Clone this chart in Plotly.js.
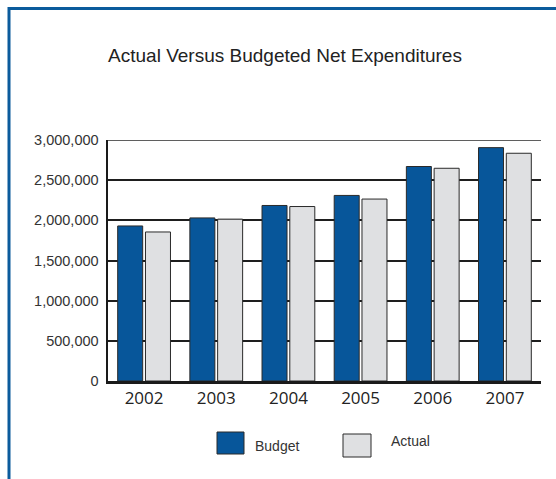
<!DOCTYPE html>
<html>
<head>
<meta charset="utf-8">
<script src="https://cdn.plot.ly/plotly-3.0.1.min.js"></script>
<style>
html,body{margin:0;padding:0;background:#fff;}
#chart{width:556px;height:479px;}
</style>
</head>
<body>
<div id="chart"></div>
<script>
var years = ["2002", "2003", "2004", "2005", "2006", "2007"];
var budget = [1930000, 2030000, 2185000, 2310000, 2670000, 2905000];
var actual = [1855000, 2015000, 2172000, 2265000, 2648000, 2835000];
var seriesNames = ["Budget", "Actual"];
var yTicks = [0, 500000, 1000000, 1500000, 2000000, 2500000, 3000000];
var yTickText = ["0", "500,000", "1,000,000", "1,500,000", "2,000,000", "2,500,000", "3,000,000"];
var chartTitle = "Actual Versus Budgeted Net Expenditures";

var W = 556, H = 479;
var M = {l: 108, r: 15, t: 140, b: 98};
var pw = W - M.l - M.r, ph = H - M.t - M.b;
function px(x) { return (x - M.l) / pw; }
function py(y) { return (H - M.b - y) / ph; }

var blue = "#07569a";
var gray = "#dfe0e2";
var edge = "#2a2a2a";

var traces = [
  {type: "bar", name: seriesNames[0], x: years, y: budget,
   marker: {color: blue, line: {color: edge, width: 1}}, hoverinfo: "x+y"},
  {type: "bar", name: seriesNames[1], x: years, y: actual,
   marker: {color: gray, line: {color: edge, width: 1}}, hoverinfo: "x+y"}
];

var shapes = [
  // top gridline (at the range edge, which Plotly does not draw)
  {type: "line", xref: "paper", yref: "y", x0: 0, x1: 1,
   y0: yTicks[yTicks.length - 1], y1: yTicks[yTicks.length - 1],
   line: {color: "#2a2a2a", width: 1.5}, layer: "below"},
  // blue frame
  {type: "path", xref: "paper", yref: "paper",
   path: "M " + px(9) + " " + py(481) + " L " + px(9) + " " + py(8.5) + " L " + px(558) + " " + py(8.5),
   line: {color: "#0b5b9c", width: 3}},
  // legend swatches
  {type: "rect", xref: "paper", yref: "paper", x0: px(217), x1: px(244), y0: py(454), y1: py(432),
   fillcolor: blue, line: {color: edge, width: 1}},
  {type: "rect", xref: "paper", yref: "paper", x0: px(343), x1: px(371), y0: py(457), y1: py(434),
   fillcolor: gray, line: {color: edge, width: 1}}
];

var annotations = [
  {xref: "paper", yref: "paper", x: px(253), y: py(446), xanchor: "left", yanchor: "middle",
   text: seriesNames[0], showarrow: false, font: {family: "Liberation Sans, Arial, sans-serif", size: 14, color: "#333"}},
  {xref: "paper", yref: "paper", x: px(389), y: py(441), xanchor: "left", yanchor: "middle",
   text: seriesNames[1], showarrow: false, font: {family: "Liberation Sans, Arial, sans-serif", size: 14, color: "#333"}}
];

var layout = {
  width: W, height: H,
  margin: M,
  paper_bgcolor: "#fff", plot_bgcolor: "#fff",
  showlegend: false,
  barmode: "group",
  bargap: 0.23,
  bargroupgap: 0.1,
  title: {text: chartTitle, xref: "container", yref: "container",
          x: 285 / W, xanchor: "center", y: 1 - 55 / H, yanchor: "middle",
          font: {family: "Liberation Sans, Arial, sans-serif", size: 19, color: "#222"}},
  xaxis: {type: "category", showgrid: false, showline: true, linecolor: "#1a1a1a", linewidth: 2.5,
          ticks: "", tickfont: {family: "Open Sans, sans-serif", size: 17, color: "#222"},
          fixedrange: true},
  yaxis: {range: [0, 3000000], tickvals: yTicks, ticktext: yTickText,
          showgrid: true, gridcolor: "#1e1e1e", gridwidth: 2,
          showline: true, linecolor: "#1a1a1a", linewidth: 2.5, zeroline: false,
          ticks: "", ticklabelstandoff: 4,
          tickfont: {family: "Liberation Sans, Arial, sans-serif", size: 14.5, color: "#333"},
          fixedrange: true},
  shapes: shapes,
  annotations: annotations
};

Plotly.newPlot("chart", traces, layout, {displayModeBar: false, staticPlot: true});
</script>
</body>
</html>
